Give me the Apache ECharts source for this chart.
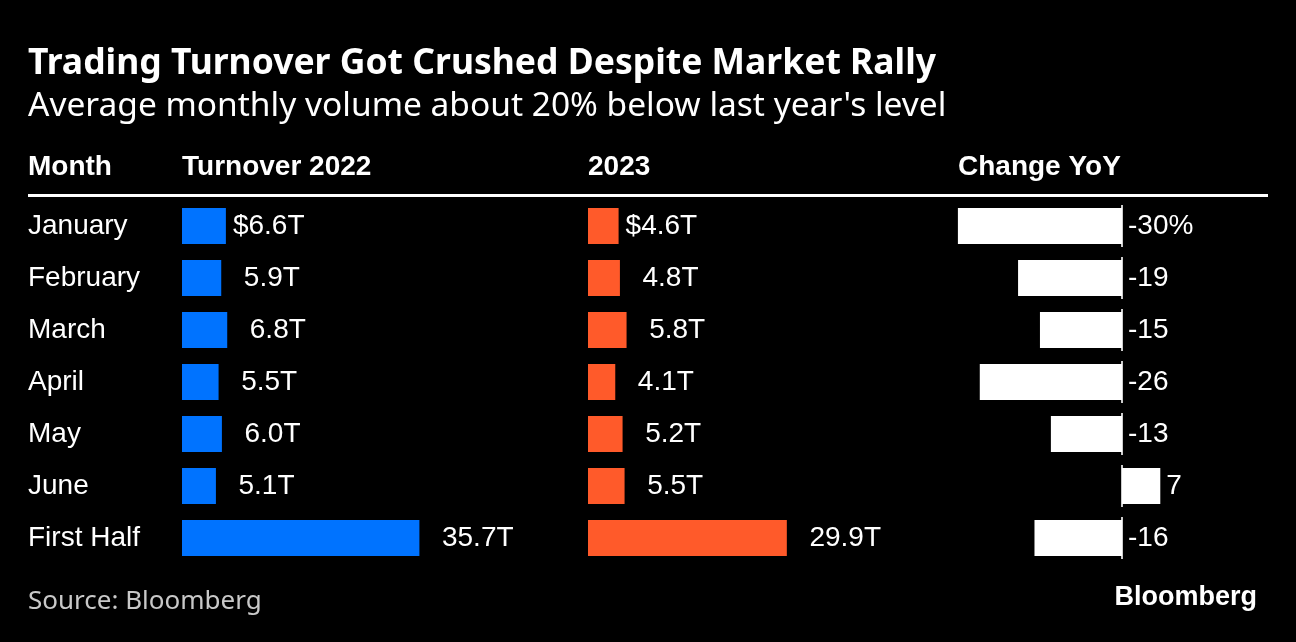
<!DOCTYPE html>
<html>
<head>
<meta charset="utf-8">
<script src="https://cdn.jsdelivr.net/npm/echarts@6/dist/echarts.min.js"></script>
<style>
  html, body { margin: 0; padding: 0; background: #000; }
  #chart { width: 1296px; height: 642px; }
</style>
</head>
<body>
<div id="chart"></div>
<script>
// Table-style chart: three bar columns sharing one category axis of months.
const months = ['January', 'February', 'March', 'April', 'May', 'June', 'First Half'];
const turnover2022 = [6.6, 5.9, 6.8, 5.5, 6.0, 5.1, 35.7];
const turnover2023 = [4.6, 4.8, 5.8, 4.1, 5.2, 5.5, 29.9];
const changeYoY = [-30, -19, -15, -26, -13, 7, -16];
const headers = ['Month', 'Turnover 2022', '2023', 'Change YoY'];

const BLUE = '#0073ff';
const ORANGE = '#ff5a2a';
const TABLE_FONT = '"Liberation Sans", Arial, sans-serif';
const TITLE_FONT = '"Noto Sans", sans-serif';

// first row shows the unit, the rest keep an invisible "$" so digits line up
function moneyLabel(p) {
  const v = p.value.toFixed(1) + 'T';
  return p.dataIndex === 0 ? '$' + v : '{h|$}' + v;
}
function pctLabel(p) {
  return p.dataIndex === 0 ? p.value + '%' : String(p.value);
}

const labelBase = {
  show: true,
  position: 'right',
  distance: 7,
  color: '#fff',
  fontFamily: TABLE_FONT,
  fontSize: 28,
  rich: { h: { color: 'transparent', fontFamily: TABLE_FONT, fontSize: 28 } },
};

const rowTop = 200;
const rowsHeight = 364;
const pxPerT = 6.65;
const pxPerPct = 5.47;
const zeroX = 1122;

const chart = echarts.init(document.getElementById('chart'), null, { renderer: 'canvas' });

chart.setOption({
  backgroundColor: '#000',
  animation: false,
  grid: [
    { left: 182, top: rowTop, width: 40 * pxPerT, height: rowsHeight },
    { left: 588, top: rowTop, width: 40 * pxPerT, height: rowsHeight },
    { left: zeroX - 40 * pxPerPct, top: rowTop, width: 60 * pxPerPct, height: rowsHeight },
  ],
  xAxis: [
    { gridIndex: 0, type: 'value', min: 0, max: 40, show: false },
    { gridIndex: 1, type: 'value', min: 0, max: 40, show: false },
    { gridIndex: 2, type: 'value', min: -40, max: 20, show: false },
  ],
  yAxis: [0, 1, 2].map((i) => ({
    gridIndex: i,
    type: 'category',
    data: months,
    inverse: true,
    axisLine: { show: false },
    axisTick: { show: false },
    splitLine: { show: false },
    axisLabel: {
      show: i === 0,
      align: 'left',
      margin: 154,
      color: '#fff',
      fontFamily: TABLE_FONT,
      fontSize: 28,
      padding: [0, 0, 5, 0],
    },
  })),
  series: [
    {
      type: 'bar', xAxisIndex: 0, yAxisIndex: 0, data: turnover2022, barWidth: 36,
      itemStyle: { color: BLUE }, label: Object.assign({}, labelBase, { formatter: moneyLabel }),
    },
    {
      type: 'bar', xAxisIndex: 1, yAxisIndex: 1, data: turnover2023, barWidth: 36,
      itemStyle: { color: ORANGE }, label: Object.assign({}, labelBase, { formatter: moneyLabel }),
    },
    {
      type: 'bar', xAxisIndex: 2, yAxisIndex: 2, data: changeYoY, barWidth: 36,
      itemStyle: { color: '#fff' },
      label: Object.assign({}, labelBase, { formatter: pctLabel, distance: 6 }),
    },
    {
      // short zero tick on every row of the change column
      type: 'scatter', xAxisIndex: 2, yAxisIndex: 2, z: 3,
      data: months.map((m) => [0, m]),
      symbol: 'rect', symbolSize: [2, 42],
      itemStyle: { color: '#fff' }, silent: true,
    },
  ],
  graphic: [
    {
      type: 'text', x: 28, y: 64,
      style: { text: 'Trading Turnover Got Crushed Despite Market Rally', fill: '#fff',
        font: 'bold 35.5px ' + TITLE_FONT, textVerticalAlign: 'middle' },
    },
    {
      type: 'text', x: 28, y: 106,
      style: { text: "Average monthly volume about 20% below last year's level", fill: '#fff',
        font: '33.5px ' + TITLE_FONT, textVerticalAlign: 'middle' },
    },
    ...headers.map((h, i) => ({
      type: 'text', x: [28, 182, 588, 958][i], y: 167.5,
      style: { text: h, fill: '#fff', font: 'bold 28px ' + TABLE_FONT, textVerticalAlign: 'middle' },
    })),
    { type: 'rect', shape: { x: 28, y: 194, width: 1240, height: 3 }, style: { fill: '#fff' } },
    {
      type: 'text', x: 28, y: 602,
      style: { text: 'Source: Bloomberg', fill: '#c8c8c8', font: '26px ' + TITLE_FONT, textVerticalAlign: 'middle' },
    },
    {
      type: 'text', x: 1257, y: 597.5,
      style: { text: 'Bloomberg', fill: '#fff', font: 'bold 27px ' + TABLE_FONT,
        textAlign: 'right', textVerticalAlign: 'middle' },
    },
  ],
});
</script>
</body>
</html>
